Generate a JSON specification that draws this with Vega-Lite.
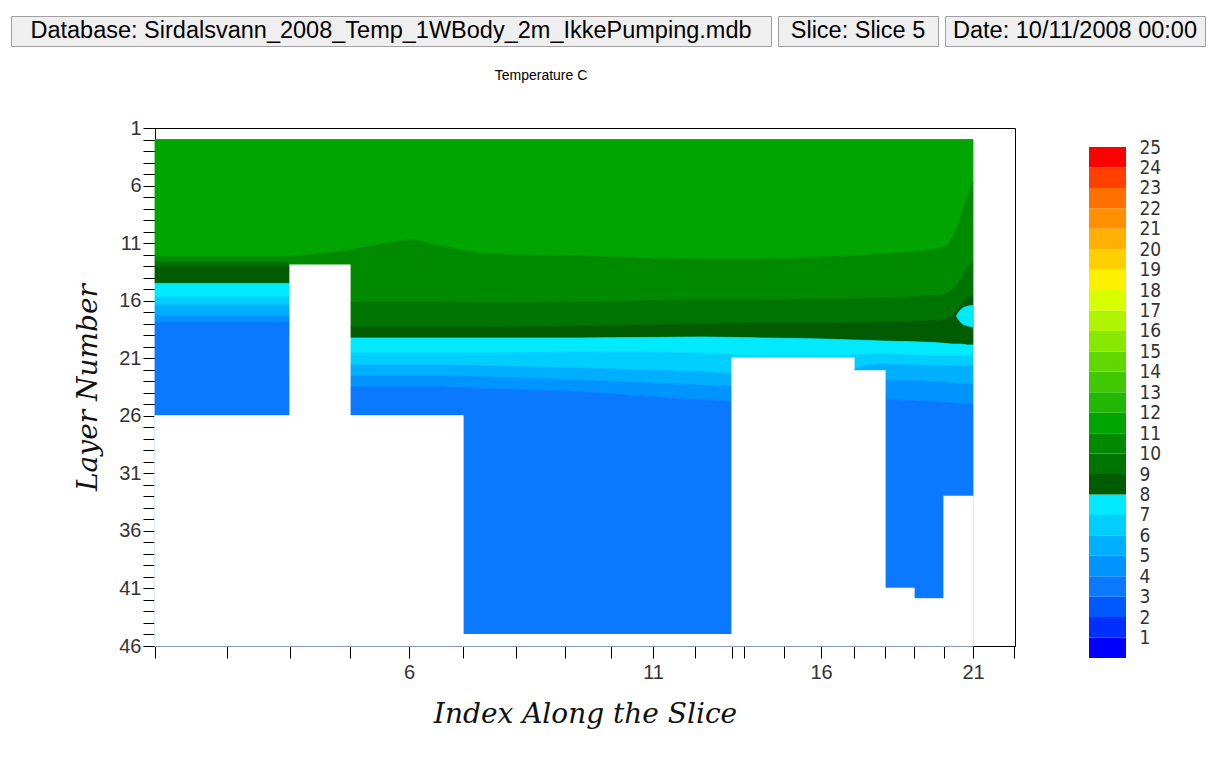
{
  "$schema": "https://vega.github.io/schema/vega-lite/v6.json",
  "background": "white",
  "padding": {"left": 10, "top": 15, "right": 0, "bottom": 0},
  "config": {
    "font": "Liberation Sans",
    "view": {"stroke": null},
    "axis": {"grid": false, "zindex": 1, "tickColor": "#000", "domainColor": "#000", "labelColor": "#333", "labelFont": "Liberation Sans", "labelFontSize": 20, "titleFont": "DejaVu Serif", "titleFontStyle": "italic", "titleFontWeight": "normal", "titleFontSize": 28, "titleColor": "#111", "labelOverlap": false, "labelBound": false, "labelFlush": false}
  },
  "datasets": {
    "header": [
      {"box": 1, "label": "Database: Sirdalsvann_2008_Temp_1WBody_2m_IkkePumping.mdb"},
      {"box": 2, "label": "Slice: Slice 5"},
      {"box": 3, "label": "Date: 10/11/2008 00:00"}
    ],
    "bands": [
      {"seg": "L", "band": 11, "dist": 0, "top": 2, "bottom": 12.2}, {"seg": "L", "band": 11, "dist": 135, "top": 2, "bottom": 12.2},
      {"seg": "L", "band": 10, "dist": 0, "top": 12.2, "bottom": 12.6}, {"seg": "L", "band": 10, "dist": 135, "top": 12.2, "bottom": 12.6},
      {"seg": "L", "band": 9, "dist": 0, "top": 12.6, "bottom": 13.0}, {"seg": "L", "band": 9, "dist": 135, "top": 12.6, "bottom": 13.0},
      {"seg": "L", "band": 8, "dist": 0, "top": 13.0, "bottom": 14.5}, {"seg": "L", "band": 8, "dist": 135, "top": 13.0, "bottom": 14.5},
      {"seg": "L", "band": 7, "dist": 0, "top": 14.5, "bottom": 15.7}, {"seg": "L", "band": 7, "dist": 135, "top": 14.5, "bottom": 15.7},
      {"seg": "L", "band": 6, "dist": 0, "top": 15.7, "bottom": 16.4}, {"seg": "L", "band": 6, "dist": 135, "top": 15.7, "bottom": 16.4},
      {"seg": "L", "band": 5, "dist": 0, "top": 16.4, "bottom": 17.3}, {"seg": "L", "band": 5, "dist": 135, "top": 16.4, "bottom": 17.3},
      {"seg": "L", "band": 4, "dist": 0, "top": 17.3, "bottom": 17.9}, {"seg": "L", "band": 4, "dist": 135, "top": 17.3, "bottom": 17.9},
      {"seg": "L", "band": 3, "dist": 0, "top": 17.9, "bottom": 46}, {"seg": "L", "band": 3, "dist": 135, "top": 17.9, "bottom": 46},

      {"seg": "R", "band": 11, "dist": 135, "top": 2, "bottom": 12.12},
      {"seg": "R", "band": 11, "dist": 195, "top": 2, "bottom": 11.60},
      {"seg": "R", "band": 11, "dist": 226, "top": 2, "bottom": 11.08},
      {"seg": "R", "band": 11, "dist": 256, "top": 2, "bottom": 10.73},
      {"seg": "R", "band": 11, "dist": 286, "top": 2, "bottom": 11.25},
      {"seg": "R", "band": 11, "dist": 336, "top": 2, "bottom": 11.95},
      {"seg": "R", "band": 11, "dist": 426, "top": 2, "bottom": 12.12},
      {"seg": "R", "band": 11, "dist": 546, "top": 2, "bottom": 12.38},
      {"seg": "R", "band": 11, "dist": 606, "top": 2, "bottom": 12.38},
      {"seg": "R", "band": 11, "dist": 666, "top": 2, "bottom": 12.21},
      {"seg": "R", "band": 11, "dist": 726, "top": 2, "bottom": 11.95},
      {"seg": "R", "band": 11, "dist": 786, "top": 2, "bottom": 11.42},
      {"seg": "R", "band": 11, "dist": 798, "top": 2, "bottom": 10.38},
      {"seg": "R", "band": 11, "dist": 806, "top": 2, "bottom": 8.56},
      {"seg": "R", "band": 11, "dist": 812, "top": 2, "bottom": 6.99},
      {"seg": "R", "band": 11, "dist": 818, "top": 2, "bottom": 5.69},

      {"seg": "R", "band": 10, "dist": 135, "top": 12.12, "bottom": 16.12},
      {"seg": "R", "band": 10, "dist": 195, "top": 11.60, "bottom": 16.12},
      {"seg": "R", "band": 10, "dist": 226, "top": 11.08, "bottom": 16.12},
      {"seg": "R", "band": 10, "dist": 256, "top": 10.73, "bottom": 16.12},
      {"seg": "R", "band": 10, "dist": 286, "top": 11.25, "bottom": 16.12},
      {"seg": "R", "band": 10, "dist": 336, "top": 11.95, "bottom": 16.20},
      {"seg": "R", "band": 10, "dist": 426, "top": 12.12, "bottom": 16.12},
      {"seg": "R", "band": 10, "dist": 546, "top": 12.38, "bottom": 15.94},
      {"seg": "R", "band": 10, "dist": 606, "top": 12.38, "bottom": 15.94},
      {"seg": "R", "band": 10, "dist": 666, "top": 12.21, "bottom": 15.86},
      {"seg": "R", "band": 10, "dist": 726, "top": 11.95, "bottom": 15.77},
      {"seg": "R", "band": 10, "dist": 786, "top": 11.42, "bottom": 15.51},
      {"seg": "R", "band": 10, "dist": 798, "top": 10.38, "bottom": 14.99},
      {"seg": "R", "band": 10, "dist": 806, "top": 8.56, "bottom": 14.12},
      {"seg": "R", "band": 10, "dist": 812, "top": 6.99, "bottom": 13.16},
      {"seg": "R", "band": 10, "dist": 818, "top": 5.69, "bottom": 12.64},

      {"seg": "R", "band": 9, "dist": 135, "top": 16.12, "bottom": 18.29},
      {"seg": "R", "band": 9, "dist": 195, "top": 16.12, "bottom": 18.29},
      {"seg": "R", "band": 9, "dist": 226, "top": 16.12, "bottom": 18.29},
      {"seg": "R", "band": 9, "dist": 256, "top": 16.12, "bottom": 18.29},
      {"seg": "R", "band": 9, "dist": 286, "top": 16.12, "bottom": 18.29},
      {"seg": "R", "band": 9, "dist": 336, "top": 16.20, "bottom": 18.29},
      {"seg": "R", "band": 9, "dist": 426, "top": 16.12, "bottom": 18.20},
      {"seg": "R", "band": 9, "dist": 546, "top": 15.94, "bottom": 18.03},
      {"seg": "R", "band": 9, "dist": 606, "top": 15.94, "bottom": 17.94},
      {"seg": "R", "band": 9, "dist": 666, "top": 15.86, "bottom": 17.94},
      {"seg": "R", "band": 9, "dist": 726, "top": 15.77, "bottom": 17.85},
      {"seg": "R", "band": 9, "dist": 786, "top": 15.51, "bottom": 17.68},
      {"seg": "R", "band": 9, "dist": 798, "top": 14.99, "bottom": 17.16},
      {"seg": "R", "band": 9, "dist": 806, "top": 14.12, "bottom": 16.38},
      {"seg": "R", "band": 9, "dist": 812, "top": 13.16, "bottom": 15.77},
      {"seg": "R", "band": 9, "dist": 818, "top": 12.64, "bottom": 15.51},

      {"seg": "R", "band": 8, "dist": 135, "top": 18.29, "bottom": 19.24},
      {"seg": "R", "band": 8, "dist": 195, "top": 18.29, "bottom": 19.24},
      {"seg": "R", "band": 8, "dist": 226, "top": 18.29, "bottom": 19.24},
      {"seg": "R", "band": 8, "dist": 256, "top": 18.29, "bottom": 19.24},
      {"seg": "R", "band": 8, "dist": 286, "top": 18.29, "bottom": 19.24},
      {"seg": "R", "band": 8, "dist": 336, "top": 18.29, "bottom": 19.24},
      {"seg": "R", "band": 8, "dist": 426, "top": 18.20, "bottom": 19.24},
      {"seg": "R", "band": 8, "dist": 546, "top": 18.03, "bottom": 19.16},
      {"seg": "R", "band": 8, "dist": 606, "top": 17.94, "bottom": 19.24},
      {"seg": "R", "band": 8, "dist": 666, "top": 17.94, "bottom": 19.33},
      {"seg": "R", "band": 8, "dist": 726, "top": 17.85, "bottom": 19.50},
      {"seg": "R", "band": 8, "dist": 786, "top": 17.68, "bottom": 19.68},
      {"seg": "R", "band": 8, "dist": 798, "top": 17.16, "bottom": 19.77},
      {"seg": "R", "band": 8, "dist": 806, "top": 16.38, "bottom": 19.77},
      {"seg": "R", "band": 8, "dist": 812, "top": 15.77, "bottom": 19.85},
      {"seg": "R", "band": 8, "dist": 818, "top": 15.51, "bottom": 19.85},

      {"seg": "R", "band": 7, "dist": 135, "top": 19.24, "bottom": 20.55},
      {"seg": "R", "band": 7, "dist": 195, "top": 19.24, "bottom": 20.55},
      {"seg": "R", "band": 7, "dist": 226, "top": 19.24, "bottom": 20.55},
      {"seg": "R", "band": 7, "dist": 256, "top": 19.24, "bottom": 20.55},
      {"seg": "R", "band": 7, "dist": 286, "top": 19.24, "bottom": 20.55},
      {"seg": "R", "band": 7, "dist": 336, "top": 19.24, "bottom": 20.55},
      {"seg": "R", "band": 7, "dist": 426, "top": 19.24, "bottom": 20.46},
      {"seg": "R", "band": 7, "dist": 546, "top": 19.16, "bottom": 20.55},
      {"seg": "R", "band": 7, "dist": 606, "top": 19.24, "bottom": 20.81},
      {"seg": "R", "band": 7, "dist": 666, "top": 19.33, "bottom": 20.81},
      {"seg": "R", "band": 7, "dist": 726, "top": 19.50, "bottom": 20.63},
      {"seg": "R", "band": 7, "dist": 786, "top": 19.68, "bottom": 20.81},
      {"seg": "R", "band": 7, "dist": 798, "top": 19.77, "bottom": 20.81},
      {"seg": "R", "band": 7, "dist": 806, "top": 19.77, "bottom": 20.81},
      {"seg": "R", "band": 7, "dist": 812, "top": 19.85, "bottom": 20.81},
      {"seg": "R", "band": 7, "dist": 818, "top": 19.85, "bottom": 20.81},

      {"seg": "R", "band": 6, "dist": 135, "top": 20.55, "bottom": 21.59},
      {"seg": "R", "band": 6, "dist": 195, "top": 20.55, "bottom": 21.59},
      {"seg": "R", "band": 6, "dist": 226, "top": 20.55, "bottom": 21.59},
      {"seg": "R", "band": 6, "dist": 256, "top": 20.55, "bottom": 21.59},
      {"seg": "R", "band": 6, "dist": 286, "top": 20.55, "bottom": 21.59},
      {"seg": "R", "band": 6, "dist": 336, "top": 20.55, "bottom": 21.68},
      {"seg": "R", "band": 6, "dist": 426, "top": 20.46, "bottom": 21.85},
      {"seg": "R", "band": 6, "dist": 546, "top": 20.55, "bottom": 22.20},
      {"seg": "R", "band": 6, "dist": 606, "top": 20.81, "bottom": 22.46},
      {"seg": "R", "band": 6, "dist": 666, "top": 20.81, "bottom": 22.46},
      {"seg": "R", "band": 6, "dist": 726, "top": 20.63, "bottom": 21.50},
      {"seg": "R", "band": 6, "dist": 786, "top": 20.81, "bottom": 21.68},
      {"seg": "R", "band": 6, "dist": 798, "top": 20.81, "bottom": 21.68},
      {"seg": "R", "band": 6, "dist": 806, "top": 20.81, "bottom": 21.68},
      {"seg": "R", "band": 6, "dist": 812, "top": 20.81, "bottom": 21.68},
      {"seg": "R", "band": 6, "dist": 818, "top": 20.81, "bottom": 21.68},

      {"seg": "R", "band": 5, "dist": 135, "top": 21.59, "bottom": 22.55},
      {"seg": "R", "band": 5, "dist": 195, "top": 21.59, "bottom": 22.55},
      {"seg": "R", "band": 5, "dist": 226, "top": 21.59, "bottom": 22.55},
      {"seg": "R", "band": 5, "dist": 256, "top": 21.59, "bottom": 22.55},
      {"seg": "R", "band": 5, "dist": 286, "top": 21.59, "bottom": 22.55},
      {"seg": "R", "band": 5, "dist": 336, "top": 21.68, "bottom": 22.63},
      {"seg": "R", "band": 5, "dist": 426, "top": 21.85, "bottom": 22.89},
      {"seg": "R", "band": 5, "dist": 546, "top": 22.20, "bottom": 23.33},
      {"seg": "R", "band": 5, "dist": 606, "top": 22.46, "bottom": 23.50},
      {"seg": "R", "band": 5, "dist": 666, "top": 22.46, "bottom": 23.50},
      {"seg": "R", "band": 5, "dist": 726, "top": 21.50, "bottom": 22.89},
      {"seg": "R", "band": 5, "dist": 786, "top": 21.68, "bottom": 23.07},
      {"seg": "R", "band": 5, "dist": 798, "top": 21.68, "bottom": 23.15},
      {"seg": "R", "band": 5, "dist": 806, "top": 21.68, "bottom": 23.24},
      {"seg": "R", "band": 5, "dist": 812, "top": 21.68, "bottom": 23.24},
      {"seg": "R", "band": 5, "dist": 818, "top": 21.68, "bottom": 23.24},

      {"seg": "R", "band": 4, "dist": 135, "top": 22.55, "bottom": 23.50},
      {"seg": "R", "band": 4, "dist": 195, "top": 22.55, "bottom": 23.50},
      {"seg": "R", "band": 4, "dist": 226, "top": 22.55, "bottom": 23.50},
      {"seg": "R", "band": 4, "dist": 256, "top": 22.55, "bottom": 23.50},
      {"seg": "R", "band": 4, "dist": 286, "top": 22.55, "bottom": 23.50},
      {"seg": "R", "band": 4, "dist": 336, "top": 22.63, "bottom": 23.67},
      {"seg": "R", "band": 4, "dist": 426, "top": 22.89, "bottom": 23.93},
      {"seg": "R", "band": 4, "dist": 546, "top": 23.33, "bottom": 24.63},
      {"seg": "R", "band": 4, "dist": 606, "top": 23.50, "bottom": 24.80},
      {"seg": "R", "band": 4, "dist": 666, "top": 23.50, "bottom": 24.80},
      {"seg": "R", "band": 4, "dist": 726, "top": 22.89, "bottom": 24.63},
      {"seg": "R", "band": 4, "dist": 786, "top": 23.07, "bottom": 24.80},
      {"seg": "R", "band": 4, "dist": 798, "top": 23.15, "bottom": 24.89},
      {"seg": "R", "band": 4, "dist": 806, "top": 23.24, "bottom": 24.98},
      {"seg": "R", "band": 4, "dist": 812, "top": 23.24, "bottom": 24.98},
      {"seg": "R", "band": 4, "dist": 818, "top": 23.24, "bottom": 24.98},

      {"seg": "R", "band": 3, "dist": 135, "top": 23.50, "bottom": 46},
      {"seg": "R", "band": 3, "dist": 195, "top": 23.50, "bottom": 46},
      {"seg": "R", "band": 3, "dist": 226, "top": 23.50, "bottom": 46},
      {"seg": "R", "band": 3, "dist": 256, "top": 23.50, "bottom": 46},
      {"seg": "R", "band": 3, "dist": 286, "top": 23.50, "bottom": 46},
      {"seg": "R", "band": 3, "dist": 336, "top": 23.67, "bottom": 46},
      {"seg": "R", "band": 3, "dist": 426, "top": 23.93, "bottom": 46},
      {"seg": "R", "band": 3, "dist": 546, "top": 24.63, "bottom": 46},
      {"seg": "R", "band": 3, "dist": 606, "top": 24.80, "bottom": 46},
      {"seg": "R", "band": 3, "dist": 666, "top": 24.80, "bottom": 46},
      {"seg": "R", "band": 3, "dist": 726, "top": 24.63, "bottom": 46},
      {"seg": "R", "band": 3, "dist": 786, "top": 24.80, "bottom": 46},
      {"seg": "R", "band": 3, "dist": 798, "top": 24.89, "bottom": 46},
      {"seg": "R", "band": 3, "dist": 806, "top": 24.98, "bottom": 46},
      {"seg": "R", "band": 3, "dist": 812, "top": 24.98, "bottom": 46},
      {"seg": "R", "band": 3, "dist": 818, "top": 24.98, "bottom": 46}
    ],
    "blob": [
      {"seg": "B", "band": 7, "dist": 801, "top": 17.33, "bottom": 17.33},
      {"seg": "B", "band": 7, "dist": 806, "top": 16.72, "bottom": 17.94},
      {"seg": "B", "band": 7, "dist": 812, "top": 16.46, "bottom": 18.20},
      {"seg": "B", "band": 7, "dist": 818, "top": 16.38, "bottom": 18.29}
    ],
    "land": [
      {"dist": 0, "dist_end": 135, "top": 26},
      {"dist": 135, "dist_end": 195, "top": 12.9},
      {"dist": 195, "dist_end": 308, "top": 26},
      {"dist": 308, "dist_end": 577, "top": 45},
      {"dist": 577, "dist_end": 699, "top": 21},
      {"dist": 699, "dist_end": 730, "top": 22.1},
      {"dist": 730, "dist_end": 759, "top": 41},
      {"dist": 759, "dist_end": 789, "top": 41.9},
      {"dist": 789, "dist_end": 818, "top": 33}
    ],
    "scalebar": [
      {"band": 0, "lo": 0, "hi": 1}, {"band": 1, "lo": 1, "hi": 2}, {"band": 2, "lo": 2, "hi": 3}, {"band": 3, "lo": 3, "hi": 4}, {"band": 4, "lo": 4, "hi": 5},
      {"band": 5, "lo": 5, "hi": 6}, {"band": 6, "lo": 6, "hi": 7}, {"band": 7, "lo": 7, "hi": 8}, {"band": 8, "lo": 8, "hi": 9}, {"band": 9, "lo": 9, "hi": 10},
      {"band": 10, "lo": 10, "hi": 11}, {"band": 11, "lo": 11, "hi": 12}, {"band": 12, "lo": 12, "hi": 13}, {"band": 13, "lo": 13, "hi": 14}, {"band": 14, "lo": 14, "hi": 15},
      {"band": 15, "lo": 15, "hi": 16}, {"band": 16, "lo": 16, "hi": 17}, {"band": 17, "lo": 17, "hi": 18}, {"band": 18, "lo": 18, "hi": 19}, {"band": 19, "lo": 19, "hi": 20},
      {"band": 20, "lo": 20, "hi": 21}, {"band": 21, "lo": 21, "hi": 22}, {"band": 22, "lo": 22, "hi": 23}, {"band": 23, "lo": 23, "hi": 24}, {"band": 24, "lo": 24, "hi": 25}
    ]
  },
  "spacing": 21,
  "vconcat": [
    {
      "spacing": 5,
      "hconcat": [
        {"width": 760, "height": 30, "view": {"fill": "#efefef", "stroke": "#a0a0a0"}, "data": {"name": "header"}, "transform": [{"filter": "datum.box == 1"}], "mark": {"type": "text", "font": "Liberation Sans", "fontSize": 23.5, "color": "#000"}, "encoding": {"text": {"field": "label"}}},
        {"width": 160, "height": 30, "view": {"fill": "#efefef", "stroke": "#a0a0a0"}, "data": {"name": "header"}, "transform": [{"filter": "datum.box == 2"}], "mark": {"type": "text", "font": "Liberation Sans", "fontSize": 23.5, "color": "#000"}, "encoding": {"text": {"field": "label"}}},
        {"width": 260, "height": 30, "view": {"fill": "#efefef", "stroke": "#a0a0a0"}, "data": {"name": "header"}, "transform": [{"filter": "datum.box == 3"}], "mark": {"type": "text", "font": "Liberation Sans", "fontSize": 23.5, "color": "#000"}, "encoding": {"text": {"field": "label"}}}
      ]
    },
    {
      "spacing": 74,
      "bounds": "flush",
      "hconcat": [
        {"width": 70, "height": 10, "data": {"values": []}, "mark": "text", "encoding": {}},
        {
          "width": 860,
          "height": 518,
          "view": {"stroke": "#000", "strokeWidth": 1},
          "title": {"text": "Temperature C", "font": "Liberation Sans", "fontSize": 14, "fontWeight": "normal", "color": "#000", "anchor": "middle", "offset": 35, "dx": -44},
          "encoding": {
            "x": {"field": "dist", "type": "quantitative", "scale": {"domain": [0, 860], "nice": false, "zero": false},
              "axis": {"title": "Index Along the Slice", "values": [0, 72, 135, 195, 254, 308, 361, 410, 456, 498, 540, 577, 589, 629, 666, 699, 730, 759, 789, 818, 859], "labelExpr": "datum.value == 254 ? '6' : datum.value == 498 ? '11' : datum.value == 666 ? '16' : datum.value == 818 ? '21' : ''", "tickSize": 12, "labelPadding": 4, "titlePadding": 18}},
            "y": {"field": "top", "type": "quantitative", "stack": null, "scale": {"domain": [1, 46], "reverse": true, "nice": false, "zero": false},
              "axis": {"title": "Layer Number", "values": [1,2,3,4,5,6,7,8,9,10,11,12,13,14,15,16,17,18,19,20,21,22,23,24,25,26,27,28,29,30,31,32,33,34,35,36,37,38,39,40,41,42,43,44,45,46], "labelExpr": "(datum.value - 1) % 5 == 0 ? datum.label : ''", "tickSize": 12, "labelPadding": 2, "titlePadding": 16}}
          },
          "layer": [
            {
              "data": {"name": "bands"},
              "mark": {"type": "area", "interpolate": "monotone", "strokeWidth": 0.8},
              "encoding": {
                "y2": {"field": "bottom"},
                "color": {"field": "band", "type": "ordinal", "legend": null, "scale": {"domain": [0,1,2,3,4,5,6,7,8,9,10,11,12,13,14,15,16,17,18,19,20,21,22,23,24], "range": ["#0000ff","#0030ff","#0058ff","#0a78ff","#0094ff","#00b0ff","#00ceff","#00eaff","#005c00","#007400","#008a00","#00a500","#20b800","#40c800","#60d800","#88e800","#b0f400","#d8fc00","#fff000","#ffd000","#ffb000","#ff9000","#ff7000","#ff4000","#ff0000"]}},
                "stroke": {"field": "band", "type": "ordinal", "legend": null, "scale": {"domain": [0,1,2,3,4,5,6,7,8,9,10,11,12,13,14,15,16,17,18,19,20,21,22,23,24], "range": ["#0000ff","#0030ff","#0058ff","#0a78ff","#0094ff","#00b0ff","#00ceff","#00eaff","#005c00","#007400","#008a00","#00a500","#20b800","#40c800","#60d800","#88e800","#b0f400","#d8fc00","#fff000","#ffd000","#ffb000","#ff9000","#ff7000","#ff4000","#ff0000"]}},
                "detail": {"field": "seg"}
              }
            },
            {
              "data": {"name": "blob"},
              "mark": {"type": "area", "interpolate": "monotone"},
              "encoding": {
                "y2": {"field": "bottom"},
                "color": {"field": "band", "type": "ordinal", "legend": null}
              }
            },
            {
              "data": {"name": "land"},
              "mark": {"type": "rect", "fill": "#ffffff", "stroke": "#ffffff", "strokeWidth": 1.2},
              "encoding": {
                "x2": {"field": "dist_end"},
                "y2": {"datum": 46}
              }
            }
          ]
        },
        {
          "width": 37,
          "height": 530,
          "data": {"name": "scalebar"},
          "mark": {"type": "rect"},
          "encoding": {
            "y": {"field": "lo", "type": "quantitative", "scale": {"domain": [0, 25.93], "nice": false, "zero": false},
              "axis": {"orient": "right", "title": null, "values": [1,2,3,4,5,6,7,8,9,10,11,12,13,14,15,16,17,18,19,20,21,22,23,24,25], "domain": false, "ticks": false, "labelPadding": 13, "labelFont": "'DejaVu Sans Condensed', 'Liberation Sans'", "labelFontSize": 19}},
            "y2": {"field": "hi"},
            "color": {"field": "band", "type": "ordinal", "legend": null}
          }
        }
      ]
    }
  ]
}
